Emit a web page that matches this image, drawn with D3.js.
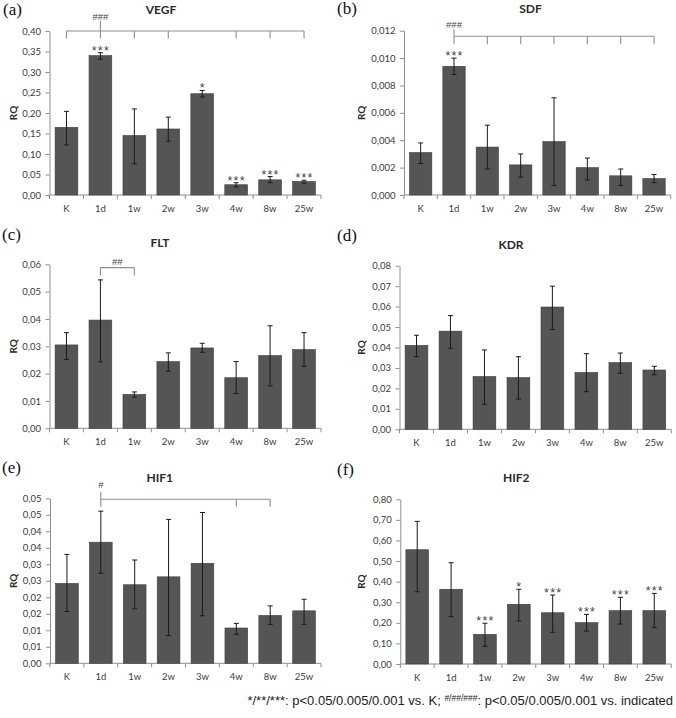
<!DOCTYPE html>
<html><head><meta charset="utf-8">
<script src="https://cdn.jsdelivr.net/npm/d3@7"></script>
<style>body{margin:0;background:#fff} svg{display:block}</style>
</head><body><svg id="c" width="676" height="718"></svg>
<script>
// ---------------- data ----------------
const categories = ["K","1d","1w","2w","3w","4w","8w","25w"];

const vegfMean = [0.165, 0.340, 0.145, 0.161, 0.247, 0.025, 0.037, 0.033];
const vegfHigh = [0.204, 0.347, 0.210, 0.190, 0.255, 0.030, 0.045, 0.036];
const vegfLow  = [0.122, 0.331, 0.076, 0.131, 0.239, 0.020, 0.030, 0.029];
const vegfStars = ["", "***", "", "", "*", "***", "***", "***"];
const vegfTicks = [0, 0.05, 0.10, 0.15, 0.20, 0.25, 0.30, 0.35, 0.40];
const vegfTickLabels = ["0,00","0,05","0,10","0,15","0,20","0,25","0,30","0,35","0,40"];

const sdfMean = [0.0031, 0.0094, 0.0035, 0.0022, 0.0039, 0.0020, 0.0014, 0.0012];
const sdfHigh = [0.0038, 0.0100, 0.0051, 0.0030, 0.0071, 0.0027, 0.0019, 0.0015];
const sdfLow  = [0.0023, 0.0088, 0.0019, 0.0013, 0.0007, 0.0011, 0.0007, 0.0009];
const sdfStars = ["", "***", "", "", "", "", "", ""];
const sdfTicks = [0, 0.002, 0.004, 0.006, 0.008, 0.010, 0.012];
const sdfTickLabels = ["0,000","0,002","0,004","0,006","0,008","0,010","0,012"];

const fltMean = [0.0305, 0.0396, 0.0124, 0.0244, 0.0294, 0.0185, 0.0266, 0.0288];
const fltHigh = [0.0350, 0.0543, 0.0133, 0.0276, 0.0311, 0.0244, 0.0375, 0.0350];
const fltLow  = [0.0252, 0.0243, 0.0114, 0.0209, 0.0278, 0.0127, 0.0155, 0.0226];
const fltStars = ["", "", "", "", "", "", "", ""];
const fltTicks = [0, 0.01, 0.02, 0.03, 0.04, 0.05, 0.06];
const fltTickLabels = ["0,00","0,01","0,02","0,03","0,04","0,05","0,06"];

const kdrMean = [0.0410, 0.0480, 0.0258, 0.0253, 0.0598, 0.0278, 0.0326, 0.0290];
const kdrHigh = [0.0460, 0.0556, 0.0388, 0.0355, 0.0700, 0.0370, 0.0373, 0.0308];
const kdrLow  = [0.0355, 0.0396, 0.0122, 0.0148, 0.0488, 0.0184, 0.0274, 0.0267];
const kdrStars = ["", "", "", "", "", "", "", ""];
const kdrTicks = [0, 0.01, 0.02, 0.03, 0.04, 0.05, 0.06, 0.07, 0.08];
const kdrTickLabels = ["0,00","0,01","0,02","0,03","0,04","0,05","0,06","0,07","0,08"];

const hif1Mean = [0.0242, 0.0367, 0.0238, 0.0262, 0.0303, 0.0107, 0.0145, 0.0159];
const hif1High = [0.0330, 0.0461, 0.0313, 0.0436, 0.0457, 0.0121, 0.0174, 0.0194];
const hif1Low  = [0.0157, 0.0273, 0.0165, 0.0084, 0.0144, 0.0088, 0.0118, 0.0118];
const hif1Stars = ["", "", "", "", "", "", "", ""];
const hif1Ticks = [0, 0.005, 0.01, 0.015, 0.02, 0.025, 0.03, 0.035, 0.04, 0.045, 0.05];
const hif1TickLabels = ["0,00","0,01","0,01","0,02","0,02","0,03","0,03","0,04","0,04","0,05","0,05"];

const hif2Mean = [0.555, 0.363, 0.144, 0.290, 0.249, 0.201, 0.259, 0.259];
const hif2High = [0.693, 0.492, 0.198, 0.363, 0.335, 0.241, 0.324, 0.343];
const hif2Low  = [0.351, 0.230, 0.086, 0.209, 0.154, 0.160, 0.194, 0.178];
const hif2Stars = ["", "", "***", "*", "***", "***", "***", "***"];
const hif2Ticks = [0, 0.1, 0.2, 0.3, 0.4, 0.5, 0.6, 0.7, 0.8];
const hif2TickLabels = ["0,00","0,10","0,20","0,30","0,40","0,50","0,60","0,70","0,80"];

// significance brackets (categories + level in data units)
const vegfBracket = {origin:"1d", from:"K", to:"25w", ticks:["K","1w","2w","4w","8w","25w"], level:0.40, label:"###"};
const sdfBracket  = {origin:"1d", from:"1d", to:"25w", ticks:["1w","2w","3w","4w","8w","25w"], level:0.0116, label:"###"};
const fltBracket  = {origin:null, from:"1d", to:"1w", ticks:["1d","1w"], level:0.0588, label:"##"};
const hif1Bracket = {origin:"1d", from:"1d", to:"8w", ticks:["4w","8w"], level:0.0497, label:"#"};

const footnoteMain = "*/**/***: p<0.05/0.005/0.001 vs. K; ";
const footnoteSup = "#/##/###";
const footnoteEnd = ": p<0.05/0.005/0.001 vs. indicated";

// ---------------- panels ----------------
const panels = [
  {tag:"(a)", title:"VEGF", mean:vegfMean, hi:vegfHigh, lo:vegfLow, stars:vegfStars, ticks:vegfTicks, labels:vegfTickLabels, bracket:vegfBracket},
  {tag:"(b)", title:"SDF",  mean:sdfMean,  hi:sdfHigh,  lo:sdfLow,  stars:sdfStars,  ticks:sdfTicks,  labels:sdfTickLabels,  bracket:sdfBracket},
  {tag:"(c)", title:"FLT",  mean:fltMean,  hi:fltHigh,  lo:fltLow,  stars:fltStars,  ticks:fltTicks,  labels:fltTickLabels,  bracket:fltBracket},
  {tag:"(d)", title:"KDR",  mean:kdrMean,  hi:kdrHigh,  lo:kdrLow,  stars:kdrStars,  ticks:kdrTicks,  labels:kdrTickLabels,  bracket:null},
  {tag:"(e)", title:"HIF1", mean:hif1Mean, hi:hif1High, lo:hif1Low, stars:hif1Stars, ticks:hif1Ticks, labels:hif1TickLabels, bracket:hif1Bracket},
  {tag:"(f)", title:"HIF2", mean:hif2Mean, hi:hif2High, lo:hif2Low, stars:hif2Stars, ticks:hif2Ticks, labels:hif2TickLabels, bracket:null}
];

// layout (pixels)
const layouts = [
  {x0:49.5, x1:321,   yTop:31,    yBot:195,   tagX:3,   tagY:15,  titleX:161,   titleY:13.5,  rqX:13,
   brUp:10, brDown:7.5, labY:-11},
  {x0:404,  x1:670.7, yTop:30.7,  yBot:195,   tagX:337, tagY:14,  titleX:530.5, titleY:12.5,  rqX:361,
   brUp:7,  brDown:8,  labY:-8.5},
  {x0:49.5, x1:321,   yTop:264.3, yBot:428.3, tagX:2,   tagY:240, titleX:160,   titleY:246.5, rqX:13,
   brUp:0,  brDown:8,  labY:-2.5},
  {x0:399.5,x1:671.3, yTop:265.7, yBot:429.3, tagX:337, tagY:241, titleX:511,   titleY:248.5, rqX:361},
  {x0:50,   x1:321,   yTop:498.3, yBot:663.3, tagX:2,   tagY:473, titleX:159.7, titleY:481.5, rqX:13,
   brUp:7.5,brDown:7.5, labY:-11},
  {x0:400.3,x1:671.2, yTop:499.3, yBot:664,   tagX:337, tagY:475, titleX:516.3, titleY:481.5, rqX:361}
];

const svg = d3.select("#c");
const AXIS = "#8f8f8f", TXT = "#3a3a3a", BAR = "#555555";
const SANS = "Lato, 'Open Sans', sans-serif";

panels.forEach((p, i) => {
  const L = layouts[i];
  const g = svg.append("g");
  const x = d3.scaleBand().domain(categories).range([L.x0, L.x1]).paddingInner(0.33).paddingOuter(0.165);
  const y = d3.scaleLinear().domain([0, p.ticks[p.ticks.length - 1]]).range([L.yBot, L.yTop]);
  const cx = c => x(c) + x.bandwidth() / 2;

  // y axis
  const ya = g.append("g").attr("transform", `translate(${L.x0},0)`)
    .call(d3.axisLeft(y).tickValues(p.ticks).tickFormat((d, k) => p.labels[k]).tickSize(4).tickSizeOuter(0).tickPadding(4.5));
  ya.select(".domain").attr("stroke", AXIS);
  ya.selectAll(".tick line").attr("stroke", AXIS);
  ya.selectAll(".tick text").attr("fill", TXT).style("font-family", SANS).style("font-size", "9.5px");

  // x axis (labels centred, ticks at band boundaries)
  const xa = g.append("g").attr("transform", `translate(0,${L.yBot})`)
    .call(d3.axisBottom(x).tickSize(0).tickPadding(10));
  xa.select(".domain").remove();
  xa.selectAll(".tick text").attr("fill", TXT).style("font-family", SANS).style("font-size", "9.5px");
  g.append("line").attr("x1", L.x0).attr("x2", L.x1).attr("y1", L.yBot).attr("y2", L.yBot).attr("stroke", AXIS);
  const bounds = categories.map(c => x(c) - x.step() * x.paddingInner() / 2).concat([L.x1]);
  g.selectAll(".xb").data(bounds).join("line")
    .attr("x1", d => d).attr("x2", d => d).attr("y1", L.yBot).attr("y2", L.yBot + 4).attr("stroke", AXIS);

  // bars
  g.selectAll(".bar").data(categories).join("rect")
    .attr("x", c => x(c)).attr("width", x.bandwidth())
    .attr("y", (c, k) => y(p.mean[k])).attr("height", (c, k) => L.yBot - y(p.mean[k]))
    .attr("fill", BAR).attr("stroke", "#3d3d3d").attr("stroke-width", 0.6);

  // error bars
  const eb = g.selectAll(".eb").data(categories).join("g");
  eb.append("line").attr("x1", c => cx(c)).attr("x2", c => cx(c))
    .attr("y1", (c, k) => y(p.hi[k])).attr("y2", (c, k) => y(p.lo[k])).attr("stroke", "#1a1a1a").attr("stroke-width", 1);
  eb.append("line").attr("x1", c => cx(c) - 2.5).attr("x2", c => cx(c) + 2.5)
    .attr("y1", (c, k) => y(p.hi[k])).attr("y2", (c, k) => y(p.hi[k])).attr("stroke", "#1a1a1a");
  eb.append("line").attr("x1", c => cx(c) - 2.5).attr("x2", c => cx(c) + 2.5)
    .attr("y1", (c, k) => y(p.lo[k])).attr("y2", (c, k) => y(p.lo[k])).attr("stroke", "#1a1a1a");

  // stars
  g.selectAll(".st").data(categories).join("text")
    .attr("x", c => cx(c) + 0.5).attr("y", (c, k) => y(p.hi[k]) + 2)
    .attr("text-anchor", "middle").attr("fill", "#444")
    .style("font-family", "'Liberation Sans', Arial, sans-serif").style("font-size", "12.5px").style("letter-spacing", "1.2px")
    .text((c, k) => p.stars[k]);

  // bracket
  if (p.bracket) {
    const b = p.bracket, ly = y(b.level);
    g.append("line").attr("x1", cx(b.from)).attr("x2", cx(b.to)).attr("y1", ly).attr("y2", ly).attr("stroke", AXIS).attr("stroke-width", 1.1);
    g.selectAll(".bt").data(b.ticks).join("line")
      .attr("x1", c => cx(c)).attr("x2", c => cx(c)).attr("y1", ly).attr("y2", ly + L.brDown)
      .attr("stroke", AXIS).attr("stroke-width", 1.1);
    let lx;
    if (b.origin) {
      lx = cx(b.origin);
      g.append("line").attr("x1", lx).attr("x2", lx).attr("y1", ly - L.brUp).attr("y2", ly + L.brDown)
        .attr("stroke", AXIS).attr("stroke-width", 1.1);
    } else {
      lx = (cx(b.from) + cx(b.to)) / 2;
    }
    g.append("text").attr("x", lx).attr("y", ly + L.labY).attr("text-anchor", "middle").attr("fill", "#444")
      .style("font-family", "'Liberation Sans', Arial, sans-serif").style("font-size", "9.5px").text(b.label);
  }

  // title, tag, RQ
  g.append("text").attr("x", L.titleX).attr("y", L.titleY).attr("text-anchor", "middle").attr("fill", "#2a2a2a")
    .style("font-family", SANS).style("font-weight", "bold").style("font-size", "12px").text(p.title);
  g.append("text").attr("x", L.tagX).attr("y", L.tagY).attr("fill", "#111")
    .style("font-family", "'Liberation Serif', 'Times New Roman', serif").style("font-size", "17px").text(p.tag);
  g.append("text").attr("transform", `translate(${L.rqX},${(L.yTop + L.yBot) / 2}) rotate(-90)`)
    .attr("text-anchor", "middle").attr("dominant-baseline", "central").attr("fill", "#2a2a2a")
    .style("font-family", SANS).style("font-weight", "bold").style("font-size", "10px").text("RQ");
});

// footnote
const fn = svg.append("text").attr("x", 673).attr("y", 705).attr("text-anchor", "end").attr("fill", "#222")
  .style("font-family", "'Liberation Sans', Arial, sans-serif").style("font-size", "13px");
fn.append("tspan").text(footnoteMain);
fn.append("tspan").attr("dy", -4.5).style("font-size", "8.5px").text(footnoteSup);
fn.append("tspan").attr("dy", 4.5).text(footnoteEnd);
</script>
</body></html>
